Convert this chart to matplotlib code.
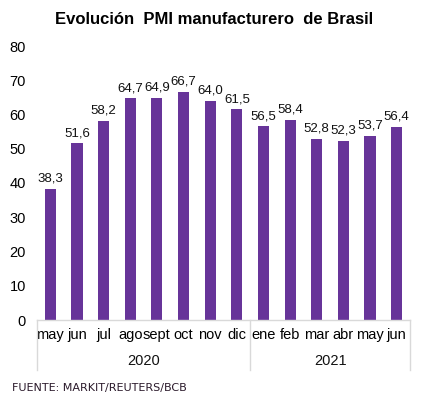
import matplotlib
matplotlib.use("Agg")
import matplotlib.pyplot as plt
from matplotlib.transforms import blended_transform_factory

months = ["may", "jun", "jul", "ago", "sept", "oct", "nov", "dic",
          "ene", "feb", "mar", "abr", "may", "jun"]
values = [38.3, 51.6, 58.2, 64.7, 64.9, 66.7, 64.0, 61.5,
          56.5, 58.4, 52.8, 52.3, 53.7, 56.4]
years = ["2020", "2021"]
year_counts = [8, 6]
yticks = [0, 10, 20, 30, 40, 50, 60, 70, 80]

plt.rcParams['font.family'] = ['Liberation Sans', 'DejaVu Sans']

fig = plt.figure(figsize=(4.26, 4.04), dpi=100)
H = 404.0
W = 426.0
ax = fig.add_axes([37 / W, 1 - 320 / H, (410 - 37) / W, (320 - 46) / H])

x = list(range(len(values)))
color = "#673499"
ax.bar(x, values, width=0.42, color=color, zorder=2)
for xi, v in zip(x, values):
    ax.annotate(f"{v:.1f}".replace(".", ","), (xi, v), xytext=(0, 3),
                textcoords="offset points", ha="center", va="bottom",
                fontsize=9.5, color="#111111")

ax.set_xlim(-0.5, len(values) - 0.5)
ax.set_ylim(0, 80)
ax.set_yticks(yticks)
ax.set_yticklabels([str(t) for t in yticks], fontsize=10.5)
ax.tick_params(axis='y', length=0, pad=8)
ax.set_xticks(x)
ax.set_xticklabels(months, fontsize=10.5)
ax.tick_params(axis='x', length=0, pad=6)
for s in ["top", "right", "left"]:
    ax.spines[s].set_visible(False)
ax.spines["bottom"].set_color("#d9d9d9")
ax.spines["bottom"].set_linewidth(1.0)

trans = blended_transform_factory(ax.transData, ax.transAxes)
bounds = [-0.5]
for c in year_counts:
    bounds.append(bounds[-1] + c)
for b in bounds:
    ax.plot([b, b], [0, -50 / 274], transform=trans, color="#d9d9d9",
            lw=1.0, clip_on=False)
for i, yr in enumerate(years):
    ax.text((bounds[i] + bounds[i + 1]) / 2, -41 / 274, yr, transform=trans,
            ha="center", va="center", fontsize=10.5, color="#111111")

fig.text(214 / W, 1 - 20 / H, "Evolución  PMI manufacturero  de Brasil",
         ha="center", va="center", fontsize=12, fontweight="bold")
fig.text(12 / W, 1 - 388 / H, "FUENTE: MARKIT/REUTERS/BCB",
         ha="left", va="center", fontsize=8, color="#2b1a2b",
         family=["DejaVu Sans"])

fig.savefig("out.png", dpi=100)
